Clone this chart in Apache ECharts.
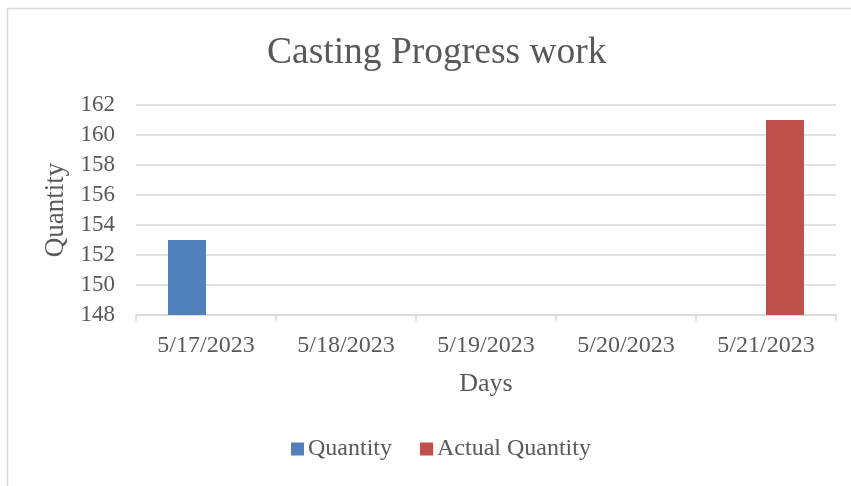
<!DOCTYPE html>
<html><head><meta charset="utf-8">
<script src="https://cdn.jsdelivr.net/npm/echarts@6/dist/echarts.min.js"></script>
<style>html,body{margin:0;padding:0;background:#fff}#c{width:851px;height:486px}</style>
</head><body><div id="c"></div>
<script>
const categories = ['5/17/2023','5/18/2023','5/19/2023','5/20/2023','5/21/2023'];
const quantity = [153, null, null, null, null];
const actualQuantity = [null, null, null, null, 161];
const yTicks = {min:148, max:162, interval:2};
const FONT = '"Liberation Serif","Times New Roman",serif';
const TXT = '#595959';
const chart = echarts.init(document.getElementById('c'));
chart.setOption({
  animation:false,
  backgroundColor:'#fff',
  graphic:[
    {type:'line', shape:{x1:7,y1:8.5,x2:851,y2:8.5}, style:{stroke:'#d9d9d9',lineWidth:1.5}},
    {type:'line', shape:{x1:7.5,y1:8,x2:7.5,y2:486}, style:{stroke:'#d9d9d9',lineWidth:1.5}}
  ],
  title:{text:'Casting Progress work', left:262, top:29,
    textStyle:{fontFamily:FONT, fontSize:37.5, fontWeight:'normal', color:TXT}},
  legend:{bottom:20, left:286, itemWidth:13, itemHeight:13, itemGap:28,
    textStyle:{fontFamily:FONT, fontSize:24, color:TXT, padding:[0,0,0,-1]},
    data:['Quantity','Actual Quantity'], icon:'rect'},
  grid:{left:136, right:15, top:105, bottom:171, containLabel:false},
  xAxis:{type:'category', data:categories, name:'Days', nameLocation:'middle', nameGap:56,
    nameTextStyle:{fontFamily:FONT, fontSize:26, color:TXT},
    axisLine:{lineStyle:{color:'#d9d9d9', width:1.5}},
    axisTick:{show:true, length:6, lineStyle:{color:'#d9d9d9', width:1.5}},
    axisLabel:{fontFamily:FONT, fontSize:24, color:TXT, margin:19}},
  yAxis:{type:'value', min:yTicks.min, max:yTicks.max, interval:yTicks.interval,
    name:'Quantity', nameLocation:'middle', nameGap:62,
    nameTextStyle:{fontFamily:FONT, fontSize:27, color:TXT},
    axisLine:{show:false}, axisTick:{show:false},
    splitLine:{lineStyle:{color:'#d9d9d9', width:1.5}},
    axisLabel:{fontFamily:FONT, fontSize:23, color:TXT, margin:21}},
  series:[
    {name:'Quantity', type:'bar', data:quantity, barWidth:38, barGap:'0%', itemStyle:{color:'#4f81bd'}},
    {name:'Actual Quantity', type:'bar', data:actualQuantity, barWidth:38, barGap:'0%', itemStyle:{color:'#c0504d'}}
  ]
});
</script></body></html>
